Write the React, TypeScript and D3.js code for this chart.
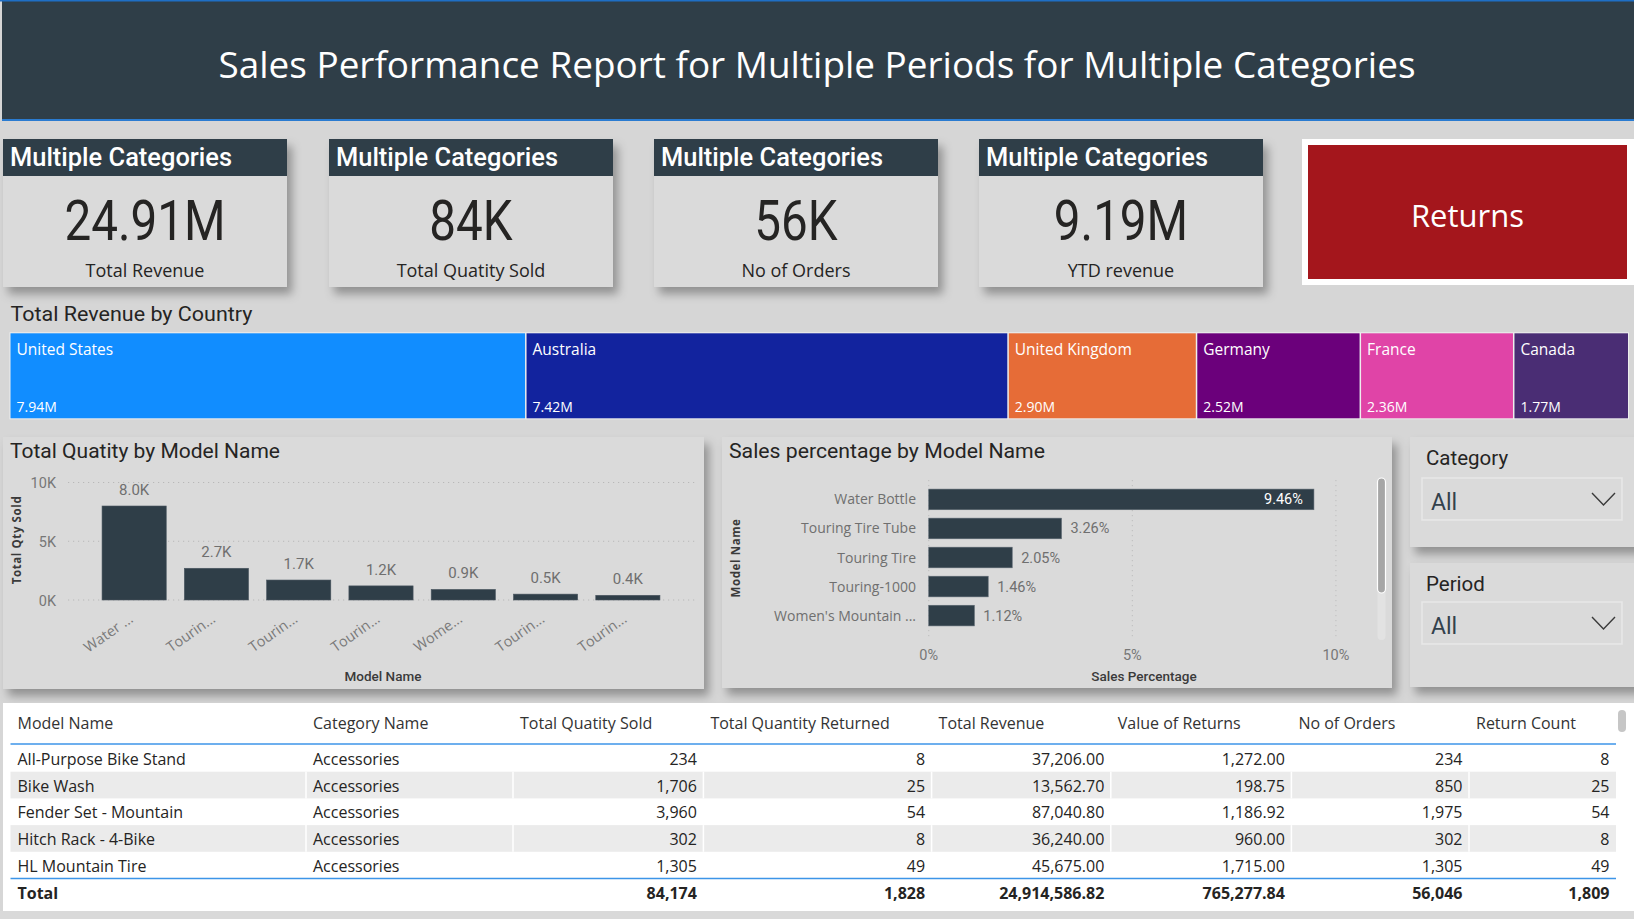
import React from "react";
import * as d3 from "d3";

// ---- report data ----
const reportTitle = "Sales Performance Report for Multiple Periods for Multiple Categories";
const cardHeader = "Multiple Categories";
const kpiNames = ["Total Revenue", "Total Quatity Sold", "No of Orders", "YTD revenue"];
const kpiValues = [24914586.82, 84174, 56046, 9190000];
const kpiPrecision = [4, 2, 2, 3];

const countries = ["United States", "Australia", "United Kingdom", "Germany", "France", "Canada"];
const countryRevenueM = [7.94, 7.42, 2.9, 2.52, 2.36, 1.77];
const countryColors = ["#118DFF", "#12239E", "#E66C37", "#6B007B", "#E044A7", "#4A2D74"];

const qtyModelLabels = ["Water ...", "Tourin...", "Tourin...", "Tourin...", "Wome...", "Tourin...", "Tourin..."];
const qtyValues = [8000, 2700, 1700, 1200, 900, 500, 400];
const qtyTicks = [0, 5000, 10000];

const pctModels = ["Water Bottle", "Touring Tire Tube", "Touring Tire", "Touring-1000", "Women's Mountain ..."];
const pctValues = [9.46, 3.26, 2.05, 1.46, 1.12];
const pctTicks = [0, 5, 10];

const slicerNames = ["Category", "Period"];
const slicerValues = ["All", "All"];

const tableHeaders = [
  "Model Name", "Category Name", "Total Quatity Sold", "Total Quantity Returned",
  "Total Revenue", "Value of Returns", "No of Orders", "Return Count",
];
const tableModels = ["All-Purpose Bike Stand", "Bike Wash", "Fender Set - Mountain", "Hitch Rack - 4-Bike", "HL Mountain Tire"];
const tableCategories = ["Accessories", "Accessories", "Accessories", "Accessories", "Accessories"];
const qtySold = [234, 1706, 3960, 302, 1305];
const qtyReturned = [8, 25, 54, 8, 49];
const revenue = [37206.0, 13562.7, 87040.8, 36240.0, 45675.0];
const returnValue = [1272.0, 198.75, 1186.92, 960.0, 1715.0];
const orderCount = [234, 850, 1975, 302, 1305];
const returnCount = [8, 25, 54, 8, 49];
const totals = [84174, 1828, 24914586.82, 765277.84, 56046, 1809];

// ---- styling ----
const SEGOE = "'Open Sans', 'Noto Sans', sans-serif";
const DIN = "Roboto, 'Noto Sans', sans-serif";
const DARK = "#2F3E48";
const PAGE = "#D6D6D6";
const PANEL = "#DADADA";
const INK = "#252423";
const GREY = "#6F6F6F";

const fmtInt = d3.format(",");
const fmtMoney = d3.format(",.2f");

function kpiText(v: number, p: number) {
  return d3.format("." + p + "s")(v).replace("k", "K");
}

function KpiCard({ x, name, value }: { x: number; name: string; value: string }) {
  const y = 139, w = 284, h = 148, hh = 37;
  return (
    <g>
      <rect x={x} y={y} width={w} height={h} fill={PANEL} filter="url(#shadow)" />
      <rect x={x} y={y} width={w} height={hh} fill={DARK} />
      <text x={x + 7} y={y + 27} fill="#fff" fontFamily={DIN} fontWeight={500} fontSize={25}
        textLength={222} lengthAdjust="spacingAndGlyphs">{cardHeader}</text>
      <text transform={`translate(${x + w / 2},${y + 101}) scale(0.85,1)`} textAnchor="middle"
        fill={INK} fontFamily={DIN} fontSize={56}>{value}</text>
      <text x={x + w / 2} y={y + 138} textAnchor="middle" fill={INK} fontFamily={SEGOE} fontSize={18}>{name}</text>
    </g>
  );
}

function QuantityChart() {
  const idx = qtyValues.map((_, i) => String(i));
  const x = d3.scaleBand().domain(idx).range([93, 669]).paddingInner(0.22).paddingOuter(0.11);
  const y = d3.scaleLinear().domain([0, 10000]).range([600, 482.5]);
  const kFmt = (v: number) => d3.format(".1f")(v / 1000) + "K";
  const tickFmt = (v: number) => d3.format("d")(v / 1000) + "K";
  return (
    <g>
      <rect x={3} y={437} width={701} height={252} fill={PANEL} filter="url(#shadow)" />
      <text x={10} y={458} fill={INK} fontFamily={DIN} fontSize={20} textLength={270} lengthAdjust="spacingAndGlyphs">
        Total Quatity by Model Name
      </text>
      {qtyTicks.map((t) => (
        <g key={t}>
          <line x1={68} x2={695} y1={y(t)} y2={y(t)} stroke="#B8B8B8" strokeWidth={1} strokeDasharray="1.2 3.8" />
          <text x={56} y={y(t) + 5.5} textAnchor="end" fill="#777" fontFamily={DIN} fontSize={14.5}>{tickFmt(t)}</text>
        </g>
      ))}
      {qtyValues.map((v, i) => {
        const bx = x(String(i))!;
        const cx = bx + x.bandwidth() / 2;
        return (
          <g key={i}>
            <rect x={bx} y={y(v)} width={x.bandwidth()} height={y(0) - y(v)} fill={DARK} stroke="#4a5660" strokeWidth={0.6} />
            <text x={cx} y={y(v) - 11} textAnchor="middle" fill={GREY} fontFamily={DIN} fontSize={15}>{kFmt(v)}</text>
            <text transform={`translate(${cx},${621}) rotate(-35)`} textAnchor="end" fill="#7A7A7A"
              fontFamily={SEGOE} fontSize={14.5}>{qtyModelLabels[i]}</text>
          </g>
        );
      })}
      <text transform="translate(21,540) rotate(-90)" textAnchor="middle" fill="#3a3a3a" fontFamily={SEGOE}
        fontWeight={700} fontSize={11.5} letterSpacing={0.6}>Total Qty Sold</text>
      <text x={383} y={681} textAnchor="middle" fill="#3a3a3a" fontFamily={DIN} fontWeight={500} fontSize={13.5}>Model Name</text>
    </g>
  );
}

function PercentChart() {
  const x = d3.scaleLinear().domain([0, 10]).range([928.75, 1335.9]);
  const y = d3.scaleBand().domain(pctModels).range([477.5, 637.5]).paddingInner(0.29).paddingOuter(0.4);
  const pFmt = (v: number) => d3.format(".2f")(v) + "%";
  return (
    <g>
      <rect x={722} y={437} width={670} height={251} fill={PANEL} filter="url(#shadow)" />
      <text x={729} y={458} fill={INK} fontFamily={DIN} fontSize={20} textLength={316} lengthAdjust="spacingAndGlyphs">
        Sales percentage by Model Name
      </text>
      {pctTicks.map((t) => (
        <g key={t}>
          <line x1={x(t)} x2={x(t)} y1={480} y2={640} stroke="#BDBDBD" strokeWidth={1} strokeDasharray="1.2 3.8" />
          <text x={x(t)} y={660} textAnchor="middle" fill="#777" fontFamily={DIN} fontSize={14.5}>{t + "%"}</text>
        </g>
      ))}
      {pctModels.map((m, i) => {
        const by = y(m)!;
        const bw = x(pctValues[i]) - x(0);
        // labels go inside only when the bar is long enough to leave room past the value text
        const inside = x(pctValues[i]) + 60 > x(10);
        return (
          <g key={m}>
            <rect x={x(0)} y={by} width={bw} height={y.bandwidth()} fill={DARK} stroke="#5a6670" strokeWidth={0.6} />
            <text x={916} y={by + y.bandwidth() / 2 + 5} textAnchor="end" fill={GREY} fontFamily={SEGOE} fontSize={14}>{m}</text>
            <text x={inside ? x(pctValues[i]) - 11 : x(pctValues[i]) + 9} y={by + y.bandwidth() / 2 + 5}
              textAnchor={inside ? "end" : "start"} fill={inside ? "#fff" : GREY} fontFamily={DIN} fontSize={14.5}>
              {pFmt(pctValues[i])}
            </text>
          </g>
        );
      })}
      <text transform="translate(740,558) rotate(-90)" textAnchor="middle" fill="#3a3a3a" fontFamily={SEGOE}
        fontWeight={700} fontSize={11.5} letterSpacing={0.6}>Model Name</text>
      <text x={1144} y={681} textAnchor="middle" fill="#3a3a3a" fontFamily={DIN} fontWeight={500} fontSize={13.5}>Sales Percentage</text>
      {/* vertical scroll bar */}
      <rect x={1377.5} y={478} width={8} height={162} rx={4} fill="#E2E2E2" />
      <rect x={1377.5} y={478} width={8} height={115} rx={4} fill="#A6A6A6" stroke="#fff" strokeWidth={1.2} />
    </g>
  );
}

function Slicer({ y, h, label, value, box }: { y: number; h: number; label: string; value: string; box: number }) {
  return (
    <g>
      <rect x={1410} y={y} width={240} height={h} fill={PANEL} filter="url(#shadow)" />
      <text x={1426} y={y + 28} fill={INK} fontFamily={DIN} fontSize={20.5}>{label}</text>
      <rect x={1422} y={y + box} width={200} height={42} fill="none" stroke="#E8E8E8" strokeWidth={1.5} />
      <text x={1431} y={y + box + 32} fill="#33414C" fontFamily={DIN} fontSize={23}>{value}</text>
      <polyline points={`1592,${y + box + 15} 1603.5,${y + box + 27} 1615,${y + box + 15}`} fill="none" stroke="#3a3a3a" strokeWidth={1.4} />
    </g>
  );
}

function DataTable() {
  const cols = [10.5, 306, 513, 703.4, 931.6, 1110.8, 1291.4, 1469, 1616];
  const rowTop = 745;
  const rowH = 26.7;
  const numericCols = [qtySold, qtyReturned, revenue, returnValue, orderCount, returnCount];
  const numFmt = [fmtInt, fmtInt, fmtMoney, fmtMoney, fmtInt, fmtInt];
  const totalY = rowTop + rowH * tableModels.length;
  return (
    <g fontFamily={SEGOE} fontSize={16} fill={INK}>
      <rect x={3} y={703} width={1631} height={208} fill="#fff" />
      <rect x={0} y={911} width={1634} height={8} fill="#D9D9D9" />
      {tableHeaders.map((hd, c) => (
        <text key={hd} x={cols[c] + 7} y={729} fill="#333">{hd}</text>
      ))}
      {tableModels.map((m, r) => {
        const top = rowTop + r * rowH;
        return (
          <g key={m}>
            {r % 2 === 1 && <rect x={cols[0]} y={top} width={cols[8] - cols[0]} height={rowH} fill="#EBEBEB" />}
            {r % 2 === 1 && cols.slice(1, 8).map((cx) => (
              <line key={cx} x1={cx} x2={cx} y1={top} y2={top + rowH} stroke="#fff" strokeWidth={1.5} />
            ))}
            <text x={cols[0] + 7} y={top + 20}>{m}</text>
            <text x={cols[1] + 7} y={top + 20}>{tableCategories[r]}</text>
            {numericCols.map((arr, k) => (
              <text key={k} x={cols[k + 3] - 6.5} y={top + 20} textAnchor="end">{numFmt[k](arr[r])}</text>
            ))}
          </g>
        );
      })}
      <line x1={cols[0]} x2={cols[8]} y1={744} y2={744} stroke="#3C95E8" strokeWidth={1.5} />
      <line x1={cols[0]} x2={cols[8]} y1={totalY} y2={totalY} stroke="#3C95E8" strokeWidth={1.5} />
      <text x={cols[0] + 7} y={totalY + 20.5} fontWeight={700}>Total</text>
      {totals.map((v, k) => (
        <text key={k} x={cols[k + 3] - 6.5} y={totalY + 20.5} textAnchor="end" fontWeight={700}>{numFmt[k](v)}</text>
      ))}
      <rect x={1618} y={710} width={8} height={22} rx={4} fill="#C6C6C6" />
    </g>
  );
}

export default function App() {
  const W = 1634, H = 919;
  const cardX = [3, 329, 654, 979];

  // single-row treemap of revenue by country
  type Leaf = { name: string; value: number; color: string };
  const root = d3
    .hierarchy<any>({ children: countries.map((c, i) => ({ name: c, value: countryRevenueM[i], color: countryColors[i] })) })
    .sum((d: any) => d.value ?? 0);
  const tm = d3.treemap<any>().tile(d3.treemapDice).size([1617.5, 85]).paddingInner(1.5);
  tm(root);
  const leaves = root.leaves() as d3.HierarchyRectangularNode<Leaf>[];
  const tmX = 10.5, tmY = 333.3;

  return (
    <svg width={W} height={H} viewBox={`0 0 ${W} ${H}`} style={{ position: "absolute", left: 0, top: 0, display: "block" }}>
      <defs>
        <filter id="shadow" x="-10%" y="-10%" width="130%" height="140%">
          <feDropShadow dx="5" dy="7" stdDeviation="5" floodColor="#000" floodOpacity="0.32" />
        </filter>
      </defs>
      <rect width={W} height={H} fill={PAGE} />

      {/* title banner */}
      <rect x={2} y={0} width={W - 2} height={121} fill={DARK} />
      <rect x={0} y={0} width={W} height={1.5} fill="#1F6FC5" />
      <rect x={2} y={119} width={W - 2} height={2} fill="#2A7BD0" />
      <text x={817} y={77.5} textAnchor="middle" fill="#fff" fontFamily={SEGOE} fontSize={37}
        textLength={1197} lengthAdjust="spacingAndGlyphs">{reportTitle}</text>

      {/* KPI cards */}
      {kpiNames.map((n, i) => (
        <KpiCard key={n} x={cardX[i]} name={n} value={kpiText(kpiValues[i], kpiPrecision[i])} />
      ))}

      {/* Returns button */}
      <rect x={1302} y={139} width={332} height={146} fill="#fff" />
      <rect x={1308} y={145} width={319} height={134} fill="#A4161C" />
      <text x={1467.5} y={227} textAnchor="middle" fill="#fff" fontFamily={SEGOE} fontSize={31}>Returns</text>

      {/* revenue by country */}
      <text x={10.5} y={321} fill={INK} fontFamily={DIN} fontSize={20} textLength={242} lengthAdjust="spacingAndGlyphs">
        Total Revenue by Country
      </text>
      <g transform={`translate(${tmX},${tmY})`}>
        <rect x={-1} y={-1} width={1619.5} height={87} fill="#EEEEEE" />
        {leaves.map((l) => (
          <g key={l.data.name}>
            <rect x={l.x0} y={l.y0} width={l.x1 - l.x0} height={l.y1 - l.y0} fill={l.data.color} />
            <text x={l.x0 + 6} y={l.y0 + 22} fill="#fff" fontFamily={SEGOE} fontSize={15.5}>{l.data.name}</text>
            <text x={l.x0 + 6} y={l.y1 - 6} fill="#fff" fontFamily={SEGOE} fontSize={14}>
              {d3.format(".2f")(l.data.value) + "M"}
            </text>
          </g>
        ))}
      </g>

      <QuantityChart />
      <PercentChart />

      <Slicer y={437} h={110} label={slicerNames[0]} value={slicerValues[0]} box={41} />
      <Slicer y={563} h={124} label={slicerNames[1]} value={slicerValues[1]} box={39} />

      <DataTable />
    </svg>
  );
}
